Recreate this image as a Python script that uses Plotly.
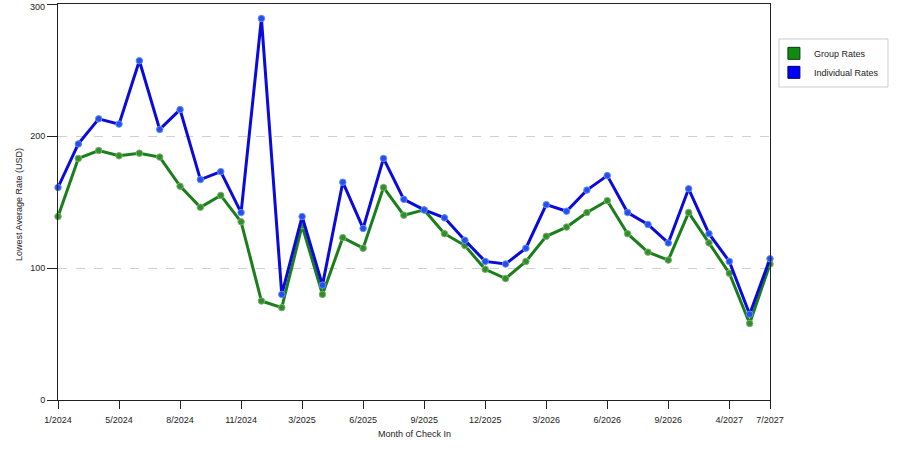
import plotly.graph_objects as go

# month of check in (categorical, only some are labelled on the axis)
months = [
    "1/2024", "2/2024", "3/2024", "5/2024", "6/2024", "7/2024", "8/2024", "9/2024",
    "10/2024", "11/2024", "12/2024", "1/2025", "3/2025", "4/2025", "5/2025", "6/2025",
    "7/2025", "8/2025", "9/2025", "10/2025", "11/2025", "12/2025", "1/2026", "2/2026",
    "3/2026", "4/2026", "5/2026", "6/2026", "7/2026", "8/2026", "9/2026", "10/2026",
    "11/2026", "4/2027", "5/2027", "7/2027",
]
group_rates = [
    139, 183, 189, 185, 187, 184, 162, 146, 155, 135, 75, 70, 132, 80, 123, 115,
    161, 140, 144, 126, 117, 99, 92, 105, 124, 131, 142, 151, 126, 112, 106, 142,
    119, 96, 58, 103,
]
individual_rates = [
    161, 194, 213, 209, 257, 205, 220, 167, 173, 142, 289, 80, 139, 87, 165, 130,
    183, 152, 144, 138, 121, 105, 103, 115, 148, 143, 159, 170, 142, 133, 119, 160,
    126, 105, 65, 107,
]
tick_months = ["1/2024", "5/2024", "8/2024", "11/2024", "3/2025", "6/2025", "9/2025",
               "12/2025", "3/2026", "6/2026", "9/2026", "4/2027", "7/2027"]
y_ticks = [0, 100, 200, 300]
y_max = 300

GREEN = "#1a7f1a"
BLUE = "#0a0adc"
FONT = "Liberation Sans"
TXT = "#222222"

fig = go.Figure()

fig.add_trace(go.Scatter(
    x=months, y=group_rates, mode="lines+markers", name="Group Rates",
    line=dict(color=GREEN, width=3),
    marker=dict(size=6.5, color="#2f8f2f", line=dict(color="#7fb06a", width=1)),
    cliponaxis=False, showlegend=False,
))
fig.add_trace(go.Scatter(
    x=months, y=individual_rates, mode="lines+markers", name="Individual Rates",
    line=dict(color=BLUE, width=3),
    marker=dict(size=6.5, color="#2050f0", line=dict(color="#6a8cf0", width=1)),
    cliponaxis=False, showlegend=False,
))

# legend entries drawn as squares, like the original
fig.add_trace(go.Scatter(
    x=[None], y=[None], mode="markers", name="Group Rates",
    marker=dict(symbol="square", size=12, color="#128a12", line=dict(color="#0a3a0a", width=1)),
))
fig.add_trace(go.Scatter(
    x=[None], y=[None], mode="markers", name="Individual Rates",
    marker=dict(symbol="square", size=12, color="#0000ff", line=dict(color="#000066", width=1)),
))

fig.update_layout(
    width=900, height=450,
    margin=dict(l=58, r=130, t=4, b=50),
    paper_bgcolor="white", plot_bgcolor="white",
    font=dict(family=FONT, size=9, color=TXT),
    legend=dict(
        x=1.0055, y=0.912, xanchor="left", yanchor="top",
        borderwidth=0, bgcolor="rgba(0,0,0,0)",
        font=dict(family=FONT, size=9, color=TXT),
        itemwidth=30, tracegroupgap=0,
    ),
    # legend frame
    shapes=[dict(
        type="rect", xref="paper", yref="paper",
        x0=1.0126, x1=1.1657, y0=0.7904, y1=0.9116,
        line=dict(color="#cccccc", width=1), fillcolor="rgba(0,0,0,0)", layer="below",
    )],
    annotations=[
        # top tick label (plotly drops it at the very edge of the page)
        dict(x=0, y=y_max, xref="paper", yref="y", text=str(y_max), showarrow=False,
             xanchor="right", yanchor="top", xshift=-12, yshift=3, borderpad=0,
             font=dict(family=FONT, size=9, color=TXT)),
        dict(x=0.5, y=-0.0859, xref="paper", yref="paper", text="Month of Check In",
             showarrow=False, xanchor="center", yanchor="middle",
             font=dict(family=FONT, size=9, color=TXT)),
        dict(x=-0.0548, y=0.495, xref="paper", yref="paper", text="Lowest Average Rate (USD)",
             showarrow=False, xanchor="center", yanchor="middle", textangle=-90,
             font=dict(family=FONT, size=9, color=TXT)),
    ],
)

fig.update_xaxes(
    type="category", categoryorder="array", categoryarray=months,
    range=[0, len(months) - 1], automargin=False,
    tickmode="array", tickvals=tick_months, ticktext=tick_months,
    ticks="outside", ticklen=8, tickcolor=TXT, ticklabelstandoff=3,
    showline=True, linecolor=TXT, linewidth=1, mirror=True,
    showgrid=False, zeroline=False,
)
fig.update_yaxes(
    range=[0, y_max + 0.001], automargin=False, tickmode="array", tickvals=y_ticks,
    ticks="outside", ticklen=10, tickcolor=TXT,
    showline=True, linecolor=TXT, linewidth=1, mirror=True,
    showgrid=True, gridcolor="#d0d0d0", griddash="dash", gridwidth=1,
    zeroline=False,
)

fig.write_html("out.html", config={"displayModeBar": False},
               post_script="document.body.style.margin='0';")
